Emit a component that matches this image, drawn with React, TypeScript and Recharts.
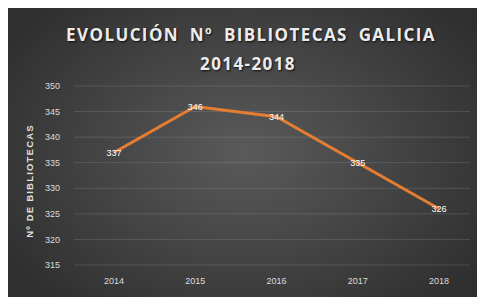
import React from "react";
import { LineChart, Line, XAxis, YAxis, CartesianGrid, LabelList } from "recharts";

const years = ["2014", "2015", "2016", "2017", "2018"];
const libraries = [337, 346, 344, 335, 326];
const yTicks = [315, 320, 325, 330, 335, 340, 345, 350];

const data = years.map((y, i) => ({ year: y, value: libraries[i] }));

const W = 476;
const H = 291;

export default function App() {
  return (
    <div
      style={{
        position: "relative",
        width: W,
        height: H,
        margin: "-2px 0 0 -1px",
        background:
          "radial-gradient(ellipse 60% 70% at 50% 50%, #5a5a5a 0%, #474747 45%, #2f2f2f 100%)",
        fontFamily: "'Liberation Sans', Arial, sans-serif",
        overflow: "hidden",
      }}
    >
      <div
        style={{
          position: "absolute",
          left: 6,
          top: 14,
          width: W,
          textAlign: "center",
          color: "#ececec",
          fontWeight: "bold",
          fontSize: 17,
          letterSpacing: 1.4,
          wordSpacing: 5,
          lineHeight: "29px",
          textShadow: "1px 1px 2px rgba(0,0,0,0.8)",
          fontFamily: "'Open Sans', 'Liberation Sans', sans-serif",
        }}
      >
        <div>EVOLUCIÓN Nº BIBLIOTECAS GALICIA</div>
        <div style={{ marginLeft: -6 }}>2014-2018</div>
      </div>
      <div
        style={{
          position: "absolute",
          left: 23 - 70,
          top: 175 - 7,
          width: 140,
          height: 14,
          lineHeight: "14px",
          textAlign: "center",
          transform: "rotate(-90deg)",
          color: "#e0e0e0",
          fontWeight: "bold",
          fontSize: 9.5,
          letterSpacing: 1.2,
        }}
      >
        Nº DE BIBLIOTECAS
      </div>
      <div style={{ position: "absolute", left: 0, top: 0 }}>
        <LineChart
          width={W}
          height={H}
          data={data}
          margin={{ top: 80, right: 13, bottom: 2, left: 17 }}
        >
          <CartesianGrid
            vertical={false}
            stroke="rgba(255,255,255,0.13)"
            strokeWidth={1}
          />
          <XAxis
            dataKey="year"
            axisLine={false}
            tickLine={false}
            tickSize={0}
            tickMargin={13}
            height={30}
            padding={{ left: 40, right: 31 }}
            tick={{ fill: "#dcdcdc", fontSize: 9 }}
            interval={0}
          />
          <YAxis
            type="number"
            domain={[315, 350]}
            ticks={yTicks}
            axisLine={false}
            tickLine={false}
            tickSize={0}
            tickMargin={14}
            width={50}
            tick={{ fill: "#dcdcdc", fontSize: 9 }}
            interval={0}
          />
          <Line
            type="linear"
            dataKey="value"
            stroke="#E57E32"
            strokeWidth={3}
            dot={false}
            isAnimationActive={false}
          >
            <LabelList
              dataKey="value"
              position="center"
              fill="#ffffff"
              fontSize={9}
            />
          </Line>
        </LineChart>
      </div>
    </div>
  );
}
